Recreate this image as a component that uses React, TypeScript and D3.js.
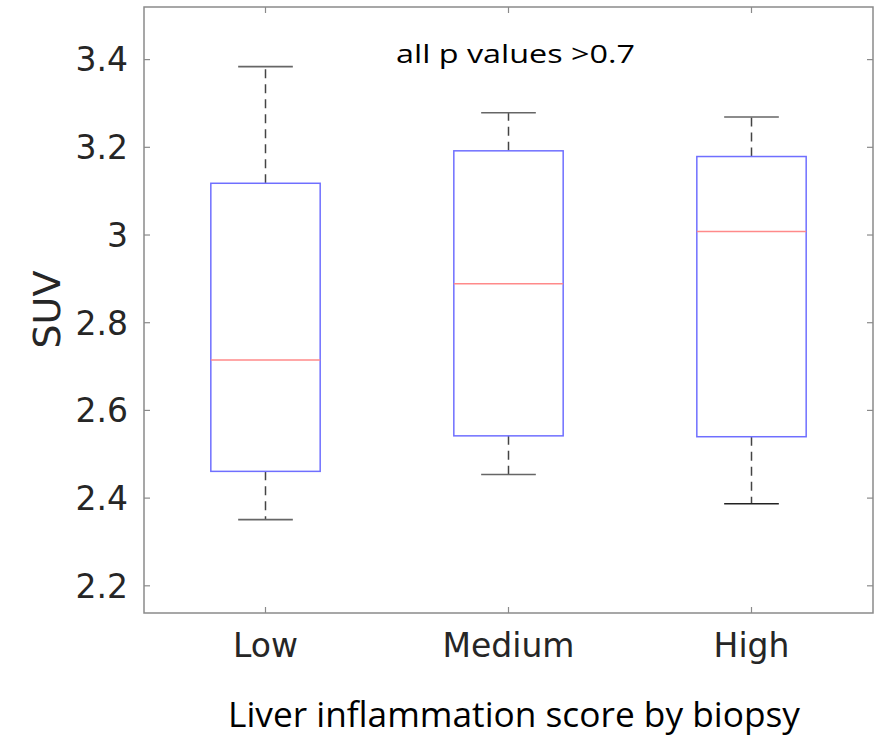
import React from "react";
import * as d3 from "d3";

const categories = ["Low", "Medium", "High"];
const whiskerLow = [2.351, 2.454, 2.387];
const q1 = [2.461, 2.542, 2.54];
const medians = [2.715, 2.889, 3.008];
const q3 = [3.118, 3.192, 3.179];
const whiskerHigh = [3.384, 3.279, 3.269];
const yTicks = [2.2, 2.4, 2.6, 2.8, 3, 3.2, 3.4];
const annotation = "all p values >0.7";
const xTitle = "Liver inflammation score by biopsy";
const yTitle = "SUV";

const W = 877;
const H = 741;
const L = 144, R = 873, T = 7, B = 613;

export default function App() {
  const x = d3.scaleLinear().domain([0.5, 3.5]).range([L, R]);
  const y = d3.scaleLinear().domain([2.138, 3.52]).range([B, T]);
  const boxHalf = 0.225;
  const capHalf = 0.1125;
  const frame = "#8a8a8a";
  const tickLen = 6;
  const fmt = (v: number) => (Number.isInteger(v) ? String(v) : v.toFixed(1));
  return (
    <svg width={W} height={H} style={{ position: "absolute", left: 0, top: 0, background: "#fff" }}>
      <rect x={0} y={0} width={W} height={H} fill="#fff" />
      <rect x={L} y={T} width={R - L} height={B - T} fill="none" stroke={frame} strokeWidth={1.5} />
      {yTicks.map((t) => (
        <g key={"y" + t}>
          <line x1={L} x2={L + tickLen} y1={y(t)} y2={y(t)} stroke={frame} strokeWidth={1.2} />
          <line x1={R} x2={R - tickLen} y1={y(t)} y2={y(t)} stroke={frame} strokeWidth={1.2} />
          <text x={128} y={y(t)} dy="0.36em" textAnchor="end" fontFamily="DejaVu Sans" fontSize={33} fill="#262626">
            {fmt(t)}
          </text>
        </g>
      ))}
      {categories.map((c, i) => (
        <g key={"x" + c}>
          <line x1={x(i + 1)} x2={x(i + 1)} y1={B} y2={B - tickLen} stroke={frame} strokeWidth={1.2} />
          <line x1={x(i + 1)} x2={x(i + 1)} y1={T} y2={T + tickLen} stroke={frame} strokeWidth={1.2} />
          <text x={x(i + 1)} y={657} textAnchor="middle" fontFamily="DejaVu Sans" fontSize={33} fill="#262626">
            {c}
          </text>
        </g>
      ))}
      {categories.map((c, i) => {
        const cx = x(i + 1);
        const bx0 = x(i + 1 - boxHalf);
        const bx1 = x(i + 1 + boxHalf);
        const cx0 = x(i + 1 - capHalf);
        const cx1 = x(i + 1 + capHalf);
        return (
          <g key={"b" + c}>
            <line x1={cx} x2={cx} y1={y(q3[i])} y2={y(whiskerHigh[i])} stroke="#444" strokeWidth={1.5} strokeDasharray="9,6" />
            <line x1={cx} x2={cx} y1={y(q1[i])} y2={y(whiskerLow[i])} stroke="#444" strokeWidth={1.5} strokeDasharray="9,6" />
            <line x1={cx0} x2={cx1} y1={y(whiskerHigh[i])} y2={y(whiskerHigh[i])} stroke="#666" strokeWidth={1.6} />
            <line x1={cx0} x2={cx1} y1={y(whiskerLow[i])} y2={y(whiskerLow[i])} stroke={i === 2 ? "#222" : "#666"} strokeWidth={1.6} />
            <rect x={bx0} y={y(q3[i])} width={bx1 - bx0} height={y(q1[i]) - y(q3[i])} fill="none" stroke="#6f6fff" strokeWidth={1.5} />
            <line x1={bx0} x2={bx1} y1={y(medians[i])} y2={y(medians[i])} stroke="#ff8a8a" strokeWidth={1.5} />
          </g>
        );
      })}
      <text x={396} y={63} fontFamily="Open Sans" fontSize={26} fill="#000" textLength={239} lengthAdjust="spacingAndGlyphs">
        {annotation}
      </text>
      <text
        transform={`translate(60,${y(2.83)}) rotate(-90)`}
        textAnchor="middle"
        fontFamily="DejaVu Sans"
        fontSize={38}
        fill="#262626"
      >
        {yTitle}
      </text>
      <text x={228} y={727} fontFamily="Open Sans" fontSize={34} fill="#000" textLength={572} lengthAdjust="spacingAndGlyphs">
        {xTitle}
      </text>
    </svg>
  );
}
